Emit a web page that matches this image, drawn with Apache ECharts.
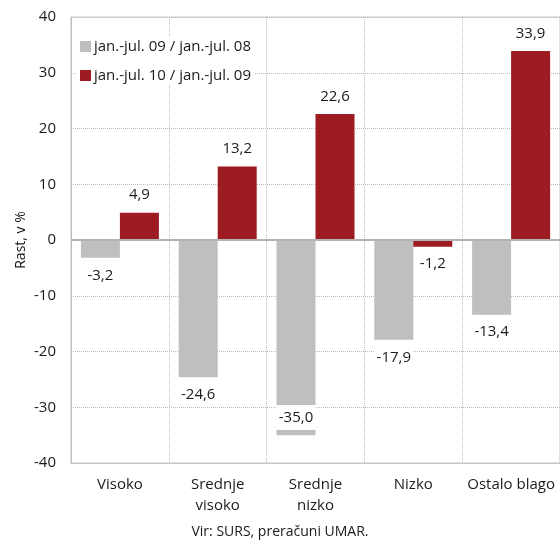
<!DOCTYPE html>
<html>
<head>
<meta charset="utf-8">
<script src="https://cdn.jsdelivr.net/npm/echarts@6/dist/echarts.min.js"></script>
<style>
  html, body { margin: 0; padding: 0; background: #fff; }
  #chart { width: 560px; height: 542px; }
</style>
</head>
<body>
<div id="chart"></div>
<script>
// data
var categories = ['Visoko', 'Srednje\nvisoko', 'Srednje\nnizko', 'Nizko', 'Ostalo blago'];
var grey09 = [-3.2, -24.6, -35.0, -17.9, -13.4];
var red10 = [4.9, 13.2, 22.6, -1.2, 33.9];
var seriesNames = ['jan.-jul. 09 / jan.-jul. 08', 'jan.-jul. 10 / jan.-jul. 09'];
// the long grey bar is drawn broken between these two values
var breakIndex = 2;
var breakFrom = -29.6;
var breakTo = -34.1;

var fmt = function (v) { return v.toFixed(1).replace('.', ','); };

var greyMain = grey09.map(function (v, i) { return i === breakIndex ? breakFrom : v; });
var gapPart = grey09.map(function (v, i) { return i === breakIndex ? breakTo - breakFrom : '-'; });
var tailPart = grey09.map(function (v, i) { return i === breakIndex ? v - breakTo : '-'; });
var redData = red10.map(function (v) {
  return v < 0 ? { value: v, label: { position: 'bottom' } } : v;
});

var labelBase = {
  show: true,
  fontFamily: 'Open Sans',
  fontSize: 15,
  color: '#1a1a1a',
  backgroundColor: '#fff',
  padding: [1, 2]
};

var chart = echarts.init(document.getElementById('chart'));
chart.setOption({
  animation: false,
  textStyle: { fontFamily: 'Open Sans' },
  title: {
    text: 'Vir: SURS, preračuni UMAR.',
    left: 'center',
    top: 520,
    textStyle: { fontSize: 14, fontWeight: 'normal', color: '#1a1a1a', fontFamily: 'Open Sans' }
  },
  legend: {
    data: seriesNames,
    orient: 'vertical',
    icon: 'rect',
    left: 76,
    top: 37,
    itemWidth: 11,
    itemHeight: 11,
    itemGap: 14,
    backgroundColor: '#fff',
    padding: [2, 4, 2, 4],
    textStyle: { fontSize: 15, color: '#1a1a1a', fontFamily: 'Open Sans', padding: [0, 0, 0, -2] }
  },
  grid: {
    left: 71,
    right: -3,
    top: 17,
    bottom: 79,
    show: true,
    borderColor: '#c6c6c6',
    borderWidth: 1
  },
  xAxis: {
    type: 'category',
    data: categories,
    axisLine: { onZero: false, lineStyle: { color: '#c6c6c6' } },
    axisTick: { show: false },
    axisLabel: { interval: 0, fontSize: 15, color: '#1a1a1a', margin: 11, lineHeight: 21 },
    splitLine: { show: true, interval: 0, lineStyle: { type: 'dotted', color: '#bdbdbd' } }
  },
  yAxis: {
    type: 'value',
    min: -40,
    max: 40,
    interval: 10,
    name: 'Rast, v %',
    nameLocation: 'middle',
    nameGap: 43,
    nameMoveOverlap: false,
    nameTextStyle: { fontSize: 14, color: '#1a1a1a' },
    axisLine: { show: true, lineStyle: { color: '#bdbdbd' } },
    axisTick: { show: false },
    axisLabel: { fontSize: 15, color: '#1a1a1a', margin: 15 },
    splitLine: { lineStyle: { type: 'dotted', color: '#bdbdbd' } }
  },
  series: [
    {
      name: seriesNames[0],
      type: 'bar',
      stack: 'g',
      barWidth: 39,
      barGap: '0%',
      itemStyle: { color: '#bfbfbf' },
      data: greyMain,
      label: Object.assign({}, labelBase, {
        position: 'bottom',
        distance: 9,
        formatter: function (p) { return p.dataIndex === breakIndex ? '' : fmt(grey09[p.dataIndex]); }
      })
    },
    {
      name: 'break',
      type: 'bar',
      stack: 'g',
      barWidth: 39,
      itemStyle: { color: '#ffffff' },
      data: gapPart,
      label: Object.assign({}, labelBase, {
        position: 'inside',
        backgroundColor: 'transparent',
        formatter: function (p) { return fmt(grey09[p.dataIndex]); }
      })
    },
    {
      name: 'tail',
      type: 'bar',
      stack: 'g',
      barWidth: 39,
      itemStyle: { color: '#bfbfbf' },
      data: tailPart
    },
    {
      name: seriesNames[1],
      type: 'bar',
      barWidth: 39,
      barGap: '0%',
      itemStyle: { color: '#9c1c22' },
      data: redData,
      label: Object.assign({}, labelBase, {
        position: 'top',
        distance: 9,
        formatter: function (p) { return fmt(red10[p.dataIndex]); }
      }),
      markLine: {
        silent: true,
        symbol: 'none',
        label: { show: false },
        lineStyle: { type: 'solid', color: '#b3b3b3', width: 2 },
        data: [{ yAxis: 0 }]
      }
    }
  ]
});
</script>
</body>
</html>
